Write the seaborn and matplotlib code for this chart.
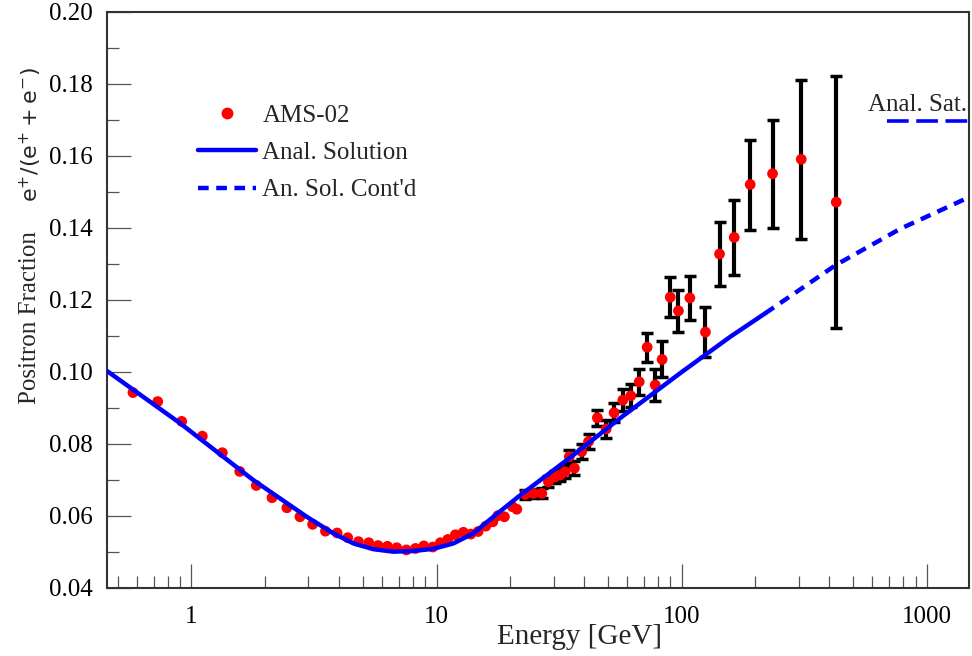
import matplotlib
matplotlib.use("Agg")
import matplotlib.pyplot as plt
from matplotlib.lines import Line2D
from matplotlib.ticker import LogLocator, MultipleLocator, FixedFormatter, FixedLocator
import numpy as np
import pandas as pd
import seaborn as sns

# --- AMS-02 positron fraction ---
ams_energy = [0.577, 0.728, 0.912, 1.107, 1.336, 1.573, 1.838, 2.13, 2.45, 2.77,
              3.12, 3.52, 3.93, 4.34, 4.80, 5.29, 5.77, 6.30, 6.88, 7.53,
              8.20, 8.87, 9.65, 10.36, 11.11, 11.93, 12.86, 13.79, 14.77, 15.88,
              16.96, 17.78, 18.91, 20.39, 21.25, 22.97, 24.84, 26.88, 28.6, 30.45,
              31.9, 33.4, 34.8, 36.5, 39.1, 41.7, 45.3, 49.2, 53.0, 57.5,
              62.0, 67.1, 72.3, 78.0, 83.2, 89.8, 97.0, 108.0, 125.0, 142.7,
              163.8, 190.4, 234.8, 307.5, 427.2]
ams_frac = [0.0942, 0.0917, 0.0862, 0.0821, 0.0775, 0.0723, 0.0684, 0.0650, 0.0622, 0.0597,
            0.0576, 0.0557, 0.0552, 0.0539, 0.0528, 0.0525, 0.0517, 0.0515, 0.0511, 0.0505,
            0.0509, 0.0516, 0.0513, 0.0525, 0.0534, 0.0547, 0.0554, 0.0549, 0.0556, 0.0571,
            0.0583, 0.0600, 0.0597, 0.0625, 0.0618, 0.0659, 0.0662, 0.0662, 0.0694, 0.0708,
            0.0713, 0.0722, 0.0764, 0.0732, 0.0778, 0.0806, 0.0872, 0.0841, 0.0886, 0.0921,
            0.0933, 0.0972, 0.1068, 0.0963, 0.1034, 0.1207, 0.1169, 0.1205, 0.1110, 0.1327,
            0.1373, 0.1520, 0.1550, 0.1590, 0.1471]
ams_err = [0.0] * 35 + [
    0.0012, 0.0013, 0.0014, 0.0015, 0.0016, 0.0017, 0.0017, 0.0018, 0.0019, 0.0020,
    0.0021, 0.0023, 0.0024, 0.0027, 0.0030, 0.0032, 0.0036, 0.0040, 0.0044, 0.0050,
    0.0056, 0.0058, 0.0060, 0.0069, 0.0088, 0.0104, 0.0125, 0.0150, 0.0220, 0.0350]

# analytic solution (solid) and its continuation (dashed)
sol_energy = [0.45, 0.898, 1.787, 2.953, 3.792, 4.576, 5.521, 6.662, 8.04, 9.70,
              11.71, 14.13, 17.05, 21.58, 35.0, 56.1, 100.0, 157.8, 219.0]
sol_frac = [0.1003, 0.0857, 0.0699, 0.0597, 0.0551, 0.0523, 0.0507, 0.0500, 0.0502, 0.0508,
            0.0523, 0.0551, 0.0597, 0.0653, 0.0761, 0.0871, 0.0999, 0.1097, 0.1162]
cont_energy = [219.0, 427.0, 780.0, 1480.0]
cont_frac = [0.1162, 0.1297, 0.1397, 0.1484]

# saturation level
sat_energy = [688.0, 1480.0]
sat_frac = [0.1696, 0.1696]

y_ticks = [0.04, 0.06, 0.08, 0.10, 0.12, 0.14, 0.16, 0.18, 0.20]
x_ticks = [1, 10, 100, 1000]

ams = pd.DataFrame({"energy": ams_energy, "frac": ams_frac, "err": ams_err})
sol = pd.DataFrame({"energy": sol_energy, "frac": sol_frac})
cont = pd.DataFrame({"energy": cont_energy, "frac": cont_frac})
sat = pd.DataFrame({"energy": sat_energy, "frac": sat_frac})

sns.set_theme(style="ticks")
plt.rcParams["font.family"] = ["Liberation Serif", "DejaVu Serif"]
plt.rcParams["mathtext.fontset"] = "dejavusans"

fig = plt.figure(figsize=(9.72, 6.56), dpi=100)
ax = fig.add_axes([106.5 / 972, 1 - 587.7 / 656, 862 / 972, 576 / 656])

# error bars (only where they show)
eb = ams[ams["err"] > 0]
ax.errorbar(eb["energy"], eb["frac"], yerr=eb["err"], fmt="none", ecolor="black",
            elinewidth=3, capsize=4, capthick=2.5, zorder=2)
sns.scatterplot(data=ams, x="energy", y="frac", ax=ax, color="#ff0000", s=60,
                edgecolor="none", zorder=3, legend=False)
sns.lineplot(data=sol, x="energy", y="frac", ax=ax, color="#0000ff", lw=3.2,
             sort=False, estimator=None, zorder=4)
sns.lineplot(data=cont, x="energy", y="frac", ax=ax, color="#0000ff", lw=3.2,
             sort=False, estimator=None, linestyle=(0, (2.4, 1.7)), zorder=4)
sns.lineplot(data=sat, x="energy", y="frac", ax=ax, color="#0000ff", lw=2.6,
             sort=False, estimator=None, linestyle=(0, (6.0, 2.1)), zorder=4)

ax.set_xscale("log")
ax.set_xlim(0.45, 1480)
ax.set_ylim(0.04, 0.20)

ax.xaxis.set_major_locator(FixedLocator(x_ticks))
ax.xaxis.set_major_formatter(FixedFormatter([str(t) for t in x_ticks]))
ax.xaxis.set_minor_locator(LogLocator(base=10, subs=np.arange(2, 10), numticks=20))
ax.yaxis.set_major_locator(FixedLocator(y_ticks))
ax.yaxis.set_major_formatter(FixedFormatter([f"{t:.2f}" for t in y_ticks]))
ax.yaxis.set_minor_locator(MultipleLocator(0.01))

ax.tick_params(which="major", direction="in", length=17, width=0.9, color="#555555",
               labelsize=18, labelcolor="black")
ax.tick_params(which="minor", direction="in", length=8.5, width=0.9, color="#555555")
ax.tick_params(axis="x", which="major", pad=13)
ax.tick_params(axis="y", which="major", pad=10)

for side in ["left", "bottom", "top", "right"]:
    ax.spines[side].set_visible(True)
    ax.spines[side].set_color("#333333")
    ax.spines[side].set_linewidth(1.5)

ax.set_xlabel("Energy [GeV]", fontsize=21, va="baseline")
ax.xaxis.set_label_coords(0.549, -0.097)
ax.set_ylabel("")

fig.text(30 / 972, 1 - 318 / 656, "Positron Fraction", rotation=90, fontsize=18,
         ha="center", va="center")
fig.text(31 / 972, 1 - 135 / 656, r"$\mathrm{e}^{+}/(\mathrm{e}^{+}+\mathrm{e}^{-})$",
         rotation=90, fontsize=16, ha="center", va="center")

ax.text(0.998, 0.838, "Anal. Sat.", transform=ax.transAxes, fontsize=18,
        ha="right", va="center")

handles = [
    Line2D([], [], marker="o", color="#ff0000", linestyle="none", markersize=7.5),
    Line2D([], [], color="#0000ff", lw=3.2),
    Line2D([], [], color="#0000ff", lw=3.2, linestyle=(0, (2.4, 1.7))),
]
labels = ["AMS-02", "Anal. Solution", "An. Sol. Cont'd"]
ax.legend(handles, labels, loc="upper left", bbox_to_anchor=(198 / 972, 1 - 104 / 656),
          bbox_transform=fig.transFigure, frameon=False, fontsize=18,
          handlelength=2.3, handletextpad=0.28, labelspacing=0.6,
          borderpad=0, borderaxespad=0)

fig.savefig("out.png", dpi=100, facecolor="white")
